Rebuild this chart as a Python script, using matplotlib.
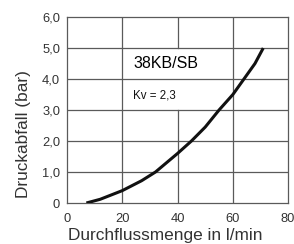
import matplotlib
matplotlib.use("Agg")
import matplotlib.pyplot as plt
import numpy as np

plt.rcParams['font.family'] = ['Liberation Sans', 'DejaVu Sans']

# curve
flow = [7, 12, 20, 27, 32, 40, 45, 50, 55, 60, 64, 68, 71]
drop = [0.0, 0.12, 0.4, 0.72, 1.0, 1.6, 2.0, 2.45, 3.0, 3.5, 4.0, 4.5, 5.0]

xticks = [0, 20, 40, 60, 80]
yticks = [0, 1, 2, 3, 4, 5, 6]
ylabels = ['0', '1,0', '2,0', '3,0', '4,0', '5,0', '6,0']

title = '38KB/SB'
kv_text = 'Kv = 2,3'

grid_col = '#5a5a5a'
text_col = '#333333'

fig = plt.figure(figsize=(2.94, 2.44), dpi=100)
ax = fig.add_axes([0.228, 0.168, 0.752, 0.762])

# grid drawn by hand, x=40 line is cut where the label box sits
for yv in yticks[1:-1]:
    ax.plot([0, 80], [yv, yv], color=grid_col, lw=0.9, zorder=1)
for xv in [20, 60]:
    ax.plot([xv, xv], [0, 6], color=grid_col, lw=0.9, zorder=1)
ax.plot([40, 40], [0, 3], color=grid_col, lw=0.9, zorder=1)
ax.plot([40, 40], [5, 6], color=grid_col, lw=0.9, zorder=1)

ax.plot(flow, drop, color='#111111', lw=2.2, solid_capstyle='butt', zorder=3)

ax.text(24, 4.5, title, fontsize=11.5, va='center', ha='left', color='#000000')
ax.text(24, 3.47, kv_text, fontsize=8.3, va='center', ha='left', color='#111111')

ax.set_xlim(0, 80)
ax.set_ylim(0, 6)
ax.set_xticks(xticks)
ax.set_yticks(yticks)
ax.set_yticklabels(ylabels)
ax.tick_params(length=0, labelsize=9.3, colors=text_col)
ax.tick_params(axis='x', pad=7)
ax.tick_params(axis='y', pad=5)
for s in ax.spines.values():
    s.set_color(grid_col)
    s.set_linewidth(0.9)

ax.set_xlabel('Durchflussmenge in l/min', fontsize=12.4, color=text_col)
ax.xaxis.set_label_coords(0.446, -0.135)
ax.set_ylabel('Druckabfall (bar)', fontsize=12.4, color=text_col)
ax.yaxis.set_label_coords(-0.165, 0.37)

fig.savefig('out.png', dpi=100)
